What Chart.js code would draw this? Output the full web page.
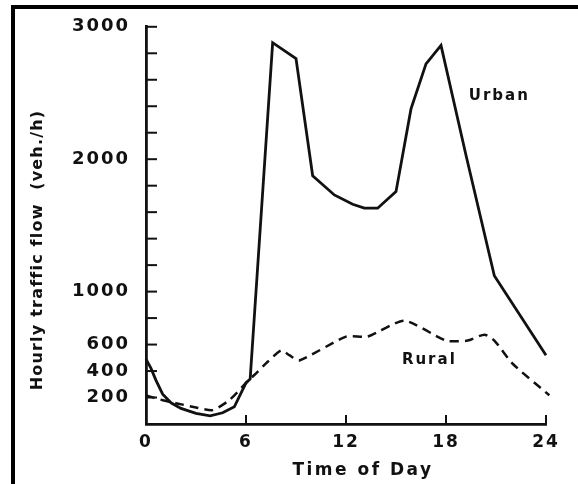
<!DOCTYPE html>
<html>
<head>
<meta charset="utf-8">
<script src="https://cdn.jsdelivr.net/npm/chart.js@4/dist/chart.umd.min.js"></script>
<style>
  html, body { margin: 0; padding: 0; background: #fff; }
  #wrap { position: relative; width: 578px; height: 484px; overflow: hidden; }
  #frame {
    position: absolute; left: 11px; top: 5px; right: -10px; bottom: -10px;
    border-top: 4px solid #000; border-left: 4px solid #000;
    pointer-events: none;
  }
</style>
</head>
<body>
<div id="wrap">
  <canvas id="flowChart" width="578" height="484"></canvas>
  <div id="frame"></div>
</div>
<script>
/* ─────────────────────────────────────────────
   Data (hour of day, vehicles per hour)
───────────────────────────────────────────── */
const urbanHours = [0, 0.3, 0.6, 1, 1.5, 2.1, 3, 3.85, 4.6, 5.3, 6, 6.25, 7.6, 9, 10, 11.3, 12.4, 13.1, 13.9, 15, 15.9, 16.8, 17.7, 19.2, 20.9, 24];
const urbanFlow  = [490, 420, 330, 225, 160, 118, 80, 62, 85, 130, 310, 340, 2880, 2760, 1875, 1730, 1660, 1630, 1630, 1755, 2380, 2720, 2860, 2030, 1120, 520];

const ruralHours = [0, 0.3, 1, 1.8, 3, 4, 5, 6, 6.5, 7.3, 8.1, 8.6, 9.2, 12, 13.3, 15.5, 18, 19.3, 20.3, 20.9, 22, 24.2];
const ruralFlow  = [215, 205, 180, 157, 125, 105, 180, 310, 370, 470, 555, 520, 480, 660, 660, 780, 630, 630, 675, 630, 455, 217];

const yTickLabels = [200, 400, 600, 1000, 2000, 3000];
const xTickLabels = [0, 6, 12, 18, 24];

const seriesNotes = [
  { text: 'Urban', hour: 21.2, flow: 2480 },
  { text: 'Rural', hour: 17.0, flow: 480 },
];

const toPoints = (xs, ys) => xs.map((x, i) => ({ x, y: ys[i] }));

const fontFamily = '"DejaVu Sans", sans-serif';
const ink = '#111';

/* ─────────────────────────────────────────────
   Plugins: inward tick marks, titles, notes
───────────────────────────────────────────── */
const figureDecor = {
  id: 'figureDecor',
  beforeDraw(chart) {
    chart.ctx.letterSpacing = '2px';
  },
  afterDraw(chart) {
    const { ctx, scales: { x, y } } = chart;
    ctx.save();
    ctx.strokeStyle = ink;
    ctx.lineWidth = 2;
    y.ticks.forEach(t => {
      const py = y.getPixelForValue(t.value);
      ctx.beginPath();
      ctx.moveTo(x.left, py);
      ctx.lineTo(x.left + 11, py);
      ctx.stroke();
    });
    x.ticks.forEach(t => {
      if (t.value === 0) return;
      const px = x.getPixelForValue(t.value);
      ctx.beginPath();
      ctx.moveTo(px, y.bottom);
      ctx.lineTo(px, y.bottom - 9);
      ctx.stroke();
    });

    ctx.fillStyle = ink;
    ctx.textBaseline = 'middle';
    ctx.textAlign = 'center';
    ctx.font = 'bold 15px ' + fontFamily;
    ctx.letterSpacing = '2px';
    seriesNotes.forEach(n => {
      ctx.fillText(n.text, x.getPixelForValue(n.hour), y.getPixelForValue(n.flow));
    });

    ctx.font = 'bold 17px ' + fontFamily;
    ctx.letterSpacing = '2.5px';
    ctx.fillText('Time of Day', 363, 471);

    ctx.translate(38, 250);
    ctx.rotate(-Math.PI / 2);
    ctx.font = 'bold 16px ' + fontFamily;
    ctx.letterSpacing = '1.2px';
    ctx.fillText('Hourly traffic flow  (veh./h)', 0, 0);
    ctx.restore();
  }
};

/* ─────────────────────────────────────────────
   Chart
───────────────────────────────────────────── */
function initFlowChart() {
  const ctx = document.getElementById('flowChart');

  new Chart(ctx, {
    type: 'line',
    data: {
      datasets: [
        {
          label: 'Urban',
          data: toPoints(urbanHours, urbanFlow),
          borderColor: ink,
          borderWidth: 2.8,
          pointRadius: 0,
          tension: 0,
          clip: false,
        },
        {
          label: 'Rural',
          data: toPoints(ruralHours, ruralFlow),
          borderColor: ink,
          borderWidth: 2.5,
          borderDash: [9, 6],
          pointRadius: 0,
          tension: 0.2,
          clip: false,
        }
      ]
    },
    options: {
      responsive: false,
      devicePixelRatio: 1,
      animation: false,
      layout: { padding: { left: 0, top: 24, right: 32, bottom: 0 } },
      plugins: {
        legend: { display: false },
        tooltip: { enabled: false }
      },
      scales: {
        x: {
          type: 'linear',
          min: 0,
          max: 24,
          afterFit: (s) => { s.height = 60; },
          afterBuildTicks: (s) => { s.ticks = xTickLabels.map(v => ({ value: v })); },
          grid: { drawOnChartArea: false, drawTicks: false },
          border: { display: true, color: ink, width: 2.8 },
          ticks: {
            color: ink,
            padding: 8,
            font: { family: fontFamily, size: 17, weight: 'bold' }
          }
        },
        y: {
          min: 0,
          max: 3000,
          afterFit: (s) => { s.width = 146; },
          grid: { drawOnChartArea: false, drawTicks: false },
          border: { display: true, color: ink, width: 2.8 },
          ticks: {
            stepSize: 200,
            autoSkip: false,
            color: ink,
            padding: 16,
            font: { family: fontFamily, size: 18, weight: 'bold' },
            callback: (v) => yTickLabels.includes(v) ? String(v) : ''
          }
        }
      }
    },
    plugins: [figureDecor]
  });
}

document.addEventListener('DOMContentLoaded', () => {
  initFlowChart();
});
</script>
</body>
</html>
